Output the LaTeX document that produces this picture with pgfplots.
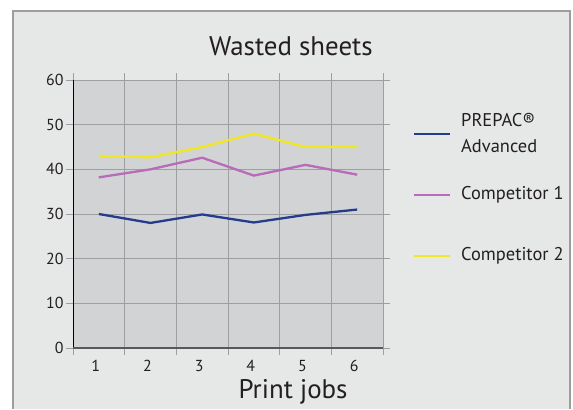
\documentclass[border=0pt]{standalone}
\usepackage{pgfplots}
\pgfplotsset{compat=1.18}
\usepackage{fontspec}
\setmainfont{PT Sans}
\definecolor{framebg}{RGB}{230,231,231}
\definecolor{frameline}{RGB}{157,157,157}
\definecolor{plotbg}{RGB}{209,211,212}
\definecolor{gridcol}{RGB}{157,159,162}
\definecolor{txt}{RGB}{35,31,32}
\definecolor{prepac}{RGB}{37,60,140}
\definecolor{comp1}{RGB}{184,107,185}
\definecolor{comp2}{RGB}{240,232,34}

\begin{document}
\begin{tikzpicture}[x=1bp,y=1bp]
\fill[white] (0,0) rectangle (573,409);
\fill[framebg] (13,0) rectangle (570,398);
\draw[frameline, line width=2bp] (13,0) -- (13,398) -- (570,398) -- (570,0);

\begin{axis}[
  at={(73bp,61bp)}, anchor=south west,
  scale only axis, width=310bp, height=268bp,
  xmin=0.5, xmax=6.5, ymin=0, ymax=60,
  xtick={1,...,6},
  minor xtick={0.5,1.5,...,6.5},
  ytick={0,10,...,60},
  ymajorgrids=true, xminorgrids=true,
  tick align=outside,
  major tick length=7bp, minor tick length=7bp,
  major x tick style={draw=none},
  minor x tick style={gridcol, line width=1bp},
  ytick style={gridcol, line width=1bp},
  grid style={gridcol, line width=1bp},
  minor grid style={gridcol, line width=1bp},
  axis line style={gridcol, line width=1bp},
  axis background/.style={fill=plotbg},
  /pgf/number format/assume math mode=true,
  tick label style={font=\fontsize{16}{18}\selectfont, text=txt},
  xticklabel style={xshift=-3bp, yshift=-2bp},
  yticklabel style={xshift=1bp},
  title={Wasted sheets},
  title style={at={(axis description cs:0.703,1.104)}, anchor=center,
    font=\fontsize{27}{30}\selectfont, text=txt},
  xlabel={Print jobs},
  xlabel style={at={(axis description cs:0.71,-0.165)}, anchor=center,
    font=\fontsize{27}{30}\selectfont, text=txt},
]
\addplot[prepac, line width=2.3bp] coordinates {
  (1,30) (2,28) (3,29.9) (4,28.1) (5,29.8) (6,31)
};
\addplot[comp1, line width=2.3bp] coordinates {
  (1,38.2) (2,40) (3,42.6) (4,38.6) (5,41) (6,38.8)
};
\addplot[comp2, line width=2.3bp] coordinates {
  (1,43) (2,42.7) (3,45) (4,48) (5,45) (6,45)
};
\draw[black, line width=2bp] (axis cs:0.5,0) -- (axis cs:0.5,60);
\draw[black!65, line width=1.3bp] (axis cs:0.5,0) -- (axis cs:6.5,0);
\end{axis}

% legend
\begin{scope}[font=\fontsize{18.5}{26}\selectfont, text=txt]
\draw[prepac, line width=2.3bp] (414,275) -- (450,275);
\node[anchor=base west, inner sep=0] at (461,283) {PREPAC®};
\node[anchor=base west, inner sep=0] at (461,257) {Advanced};
\draw[comp1, line width=2.3bp] (414,214) -- (450,214);
\node[anchor=base west, inner sep=0] at (461,210) {Competitor 1};
\draw[comp2, line width=2.3bp] (414,153) -- (450,153);
\node[anchor=base west, inner sep=0] at (461,149) {Competitor 2};
\end{scope}

\pgfresetboundingbox
\path[use as bounding box] (0,0) rectangle (573,409);
\end{tikzpicture}
\end{document}
